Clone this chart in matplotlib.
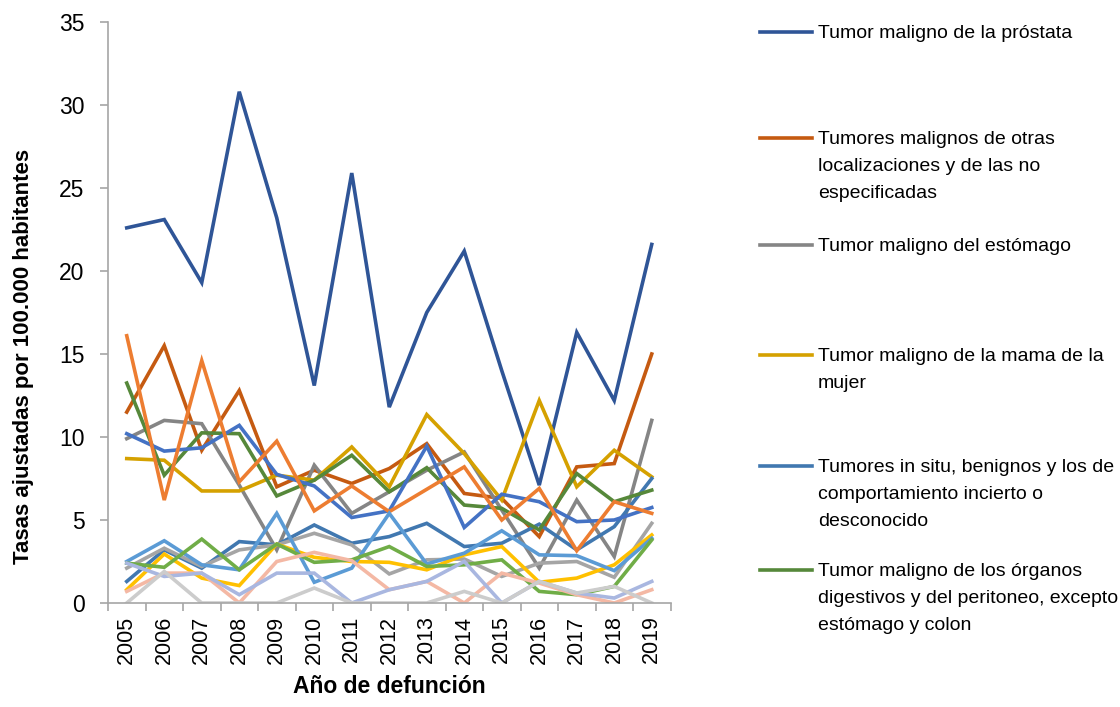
import numpy as np
import matplotlib
matplotlib.use('Agg')
import matplotlib.pyplot as plt
from matplotlib.lines import Line2D

plt.rcParams['font.family'] = ['Liberation Sans', 'DejaVu Sans']

years = [str(y) for y in range(2005, 2020)]

# series shown in the legend
prostata = [22.6, 23.1, 19.3, 30.8, 23.2, 13.1, 25.9, 11.8, 17.5, 21.2, 14.0, 7.1, 16.3, 12.2, 21.6]
otras_loc = [11.5, 15.5, 9.2, 12.8, 7.0, 8.0, 7.2, 8.1, 9.6, 6.6, 6.3, 4.0, 8.2, 8.4, 15.0]
estomago = [9.9, 11.0, 10.8, 7.1, 3.2, 8.3, 5.4, 6.7, 8.0, 9.1, 5.6, 2.1, 6.2, 2.8, 11.0]
mama = [8.7, 8.6, 6.75, 6.75, 7.7, 7.4, 9.4, 7.0, 11.35, 9.0, 6.2, 12.2, 7.0, 9.2, 7.6]
in_situ = [1.3, 3.2, 2.1, 3.7, 3.5, 4.7, 3.6, 4.0, 4.8, 3.4, 3.6, 4.75, 3.2, 4.6, 7.5]
digestivos = [13.25, 7.7, 10.25, 10.2, 6.45, 7.4, 8.9, 6.7, 8.15, 5.9, 5.7, 4.4, 7.8, 6.1, 6.8]

# remaining series (legend cut off in the original)
azul = [10.2, 9.15, 9.35, 10.7, 7.75, 7.05, 5.15, 5.55, 9.45, 4.55, 6.55, 6.1, 4.9, 5.0, 5.75]
naranja = [16.1, 6.2, 14.6, 7.3, 9.75, 5.55, 7.05, 5.5, 6.85, 8.2, 5.0, 6.9, 3.15, 6.1, 5.4]
gris_claro = [2.1, 3.3, 2.2, 3.2, 3.5, 4.2, 3.5, 1.75, 2.6, 2.65, 1.6, 2.4, 2.5, 1.55, 4.8]
amarillo = [0.8, 2.95, 1.5, 1.05, 3.55, 2.75, 2.5, 2.45, 2.0, 2.9, 3.4, 1.25, 1.5, 2.3, 4.1]
celeste = [2.5, 3.75, 2.3, 2.0, 5.4, 1.25, 2.1, 5.4, 2.35, 3.0, 4.35, 2.9, 2.85, 1.95, 3.9]
verde_claro = [2.4, 2.15, 3.85, 2.0, 3.55, 2.45, 2.6, 3.4, 2.2, 2.3, 2.6, 0.7, 0.5, 1.0, 3.8]
rosa = [0.7, 1.8, 1.8, 0.0, 2.5, 3.05, 2.55, 0.8, 1.3, 0.0, 1.8, 1.2, 0.5, 0.0, 0.8]
lavanda = [2.4, 1.6, 1.8, 0.5, 1.8, 1.8, 0.0, 0.8, 1.3, 2.5, 0.0, 1.3, 0.6, 0.3, 1.3]
gris_palido = [0.0, 1.9, 0.0, 0.0, 0.0, 0.9, 0.0, 0.0, 0.0, 0.7, 0.0, 1.3, 0.6, 1.0, 0.0]

legend_labels = [
    "Tumor maligno de la próstata",
    "Tumores malignos de otras\nlocalizaciones y de las no\nespecificadas",
    "Tumor maligno del estómago",
    "Tumor maligno de la mama de la\nmujer",
    "Tumores in situ, benignos y los de\ncomportamiento incierto o\ndesconocido",
    "Tumor maligno de los órganos\ndigestivos y del peritoneo, excepto\nestómago y colon",
]

series = [prostata, otras_loc, estomago, mama, in_situ, digestivos,
          azul, naranja, gris_claro, amarillo, celeste, verde_claro,
          rosa, lavanda, gris_palido]
colors = ['#2F5597', '#C55A11', '#858585', '#D5A100', '#4178B0', '#56883A',
          '#4472C4', '#ED7D31', '#A5A5A5', '#FFC000', '#5B9BD5', '#70AD47',
          '#F4B8A4', '#A9B7E0', '#CCCCCC']

W, H = 1120, 707
fig = plt.figure(figsize=(11.2, 7.07), dpi=100)
ax = fig.add_axes([108 / W, 1 - 603 / H, 562.5 / W, 581 / H])

x = np.arange(len(years))
for vals, c in zip(series, colors):
    ax.plot(x, vals, color=c, linewidth=2.6, solid_joinstyle='miter')

ax.set_xlim(-0.5, len(years) - 0.5)
ax.set_ylim(0, 35)
ax.set_yticks(range(0, 36, 5))
ax.set_xticks(x)
ax.set_xticklabels(years, rotation=90)
ax.set_xticks(np.arange(-0.5, len(years), 1), minor=True)

for s in ['top', 'right']:
    ax.spines[s].set_visible(False)
for s in ['left', 'bottom']:
    ax.spines[s].set_color('#A6A6A6')
    ax.spines[s].set_linewidth(1.2)

ax.tick_params(axis='y', length=6, width=1.2, color='#A6A6A6', labelsize=16.5, pad=11)
ax.tick_params(axis='x', which='major', length=0, labelsize=15.5, pad=9)
ax.tick_params(axis='x', which='minor', length=6, width=1.2, color='#A6A6A6')

ax.set_xlabel('Año de defunción', fontsize=16.5, fontweight='bold', labelpad=8)
ax.set_ylabel('Tasas ajustadas por 100.000 habitantes', fontsize=16, fontweight='bold')
ax.yaxis.set_label_coords(-0.132, 0.425)

# legend drawn by hand to keep the original's uneven slots
entry_y = [32, 138, 245, 355, 466, 570]
for lab, c, yy in zip(legend_labels, colors[:6], entry_y):
    fy = 1 - yy / H
    fig.add_artist(Line2D([760 / W, 812 / W], [fy, fy], color=c, linewidth=2.6,
                          transform=fig.transFigure))
    fig.text(818 / W, 1 - (yy - 7) / H, lab, fontsize=14, va='top', ha='left',
             linespacing=1.75)

fig.savefig('out.png', dpi=100)
